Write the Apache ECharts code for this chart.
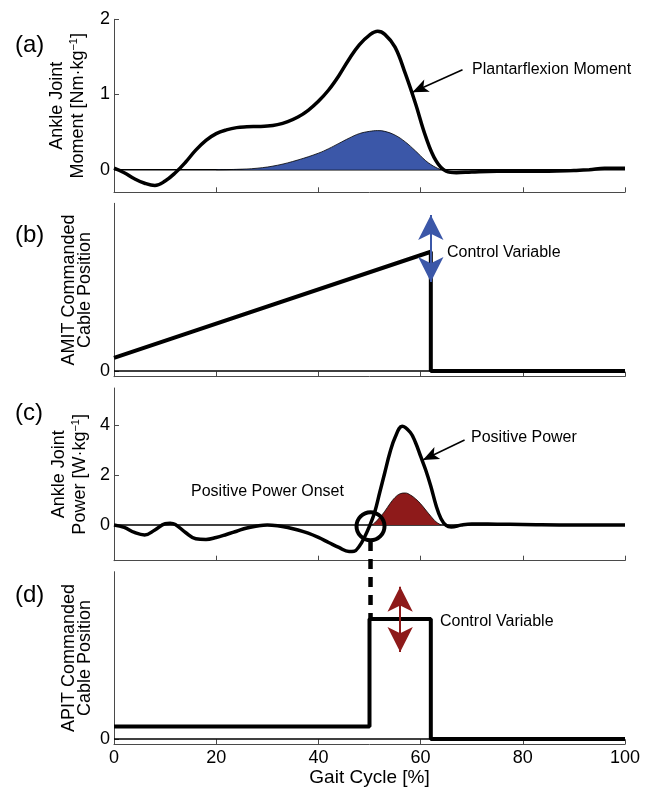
<!DOCTYPE html>
<html>
<head>
<meta charset="utf-8">
<script src="https://cdn.jsdelivr.net/npm/echarts@6/dist/echarts.min.js"></script>
<style>
  html, body { margin: 0; padding: 0; background: #fff; }
  #chart { width: 654px; height: 791px; }
</style>
</head>
<body>
<div id="chart"></div>
<script>
// Gait cycle axis ticks [%]
const gaitTicks = [0, 20, 40, 60, 80, 100];

// (a) Ankle joint moment [Nm/kg] over the gait cycle
const momentX = [0, 2, 4, 6, 8, 10, 12, 14, 16, 18, 20, 22, 24, 26, 28, 30, 32, 34, 36, 38, 40, 42, 44, 46, 48, 50, 51.6, 53, 55, 57, 59, 61, 63, 65, 67, 70, 75, 80, 85, 90, 93, 96, 100];
const momentY = [0.02, -0.04, -0.12, -0.18, -0.21, -0.15, -0.04, 0.10, 0.26, 0.39, 0.48, 0.53, 0.56, 0.57, 0.575, 0.58, 0.60, 0.64, 0.70, 0.79, 0.91, 1.06, 1.25, 1.47, 1.66, 1.79, 1.84, 1.80, 1.63, 1.28, 0.88, 0.44, 0.12, -0.02, -0.04, -0.03, -0.02, -0.02, -0.02, -0.01, 0.00, 0.02, 0.02];
// Shaded AMIT assistance profile under the moment curve
const momentFillX = [20, 24, 28, 32, 36, 40, 42, 44, 46, 48, 50, 51.6, 53, 55, 57, 59, 61, 62, 63, 64];
const momentFillY = [0, 0.005, 0.02, 0.06, 0.13, 0.22, 0.28, 0.35, 0.42, 0.48, 0.51, 0.52, 0.51, 0.46, 0.37, 0.25, 0.12, 0.07, 0.03, 0];

// (b) AMIT commanded cable position (normalised)
const amitX = [0, 62, 62, 100];
const amitY = [0.078, 0.711, 0, 0];
const amitArrowX = 62;
const amitArrowRange = [0.53, 0.93];

// (c) Ankle joint power [W/kg]
const powerX = [0, 2, 4, 6, 8, 10, 11, 12, 14, 16, 18, 20, 22, 24, 26, 28, 30, 32, 34, 36, 38, 40, 42, 44, 46, 47, 48, 49, 50, 51, 52, 53, 54, 55, 56.4, 58, 59, 60, 61, 62, 63, 64, 65, 66, 68, 70, 75, 80, 90, 100];
const powerY = [0, -0.10, -0.30, -0.40, -0.20, 0.05, 0.07, 0.02, -0.30, -0.55, -0.58, -0.50, -0.38, -0.25, -0.12, -0.04, 0.00, -0.03, -0.10, -0.20, -0.33, -0.50, -0.70, -0.90, -1.06, -1.05, -0.85, -0.50, -0.05, 0.50, 1.30, 2.10, 2.90, 3.50, 3.95, 3.70, 3.30, 2.75, 2.20, 1.55, 0.80, 0.25, -0.02, -0.08, 0.00, 0.04, 0.03, 0.02, 0.00, 0.00];
// Shaded APIT assistance profile under the power curve
const powerFillX = [50.5, 51, 52, 53, 54, 55, 56, 57, 58, 59, 60, 61, 62, 63, 64];
const powerFillY = [0, 0.08, 0.30, 0.55, 0.85, 1.10, 1.25, 1.28, 1.20, 1.05, 0.85, 0.60, 0.35, 0.13, 0];
const onsetPoint = [50.2, -0.05];

// (d) APIT commanded cable position (normalised)
const apitX = [0, 50, 50, 62, 62, 100];
const apitY = [0.074, 0.074, 0.717, 0.717, 0, 0];
const apitArrowX = 56;
const apitArrowRange = [0.52, 0.91];

const zip = (xs, ys) => xs.map((x, i) => [x, ys[i]]);

const FONT = "'Liberation Sans', Arial, Helvetica, sans-serif";
const AXIS_COLOR = '#4a4a4a';
const BLUE = '#3b57a8';
const RED = '#8e1a1a';

const grids = [
  { left: 114, width: 511, top: 19.3, height: 173 },
  { left: 114, width: 511, top: 203.3, height: 173.4 },
  { left: 114, width: 511, top: 388, height: 172.7 },
  { left: 114, width: 511, top: 571.7, height: 172.6 }
].map(g => Object.assign({ outerBoundsMode: 'none', containLabel: false }, g));

const xAxes = grids.map((g, i) => ({
  type: 'value', gridIndex: i, min: 0, max: 100, interval: 20,
  axisLine: { onZero: false, lineStyle: { color: AXIS_COLOR, width: 1 } },
  axisTick: { inside: true, length: 5, lineStyle: { color: AXIS_COLOR, width: 1 } },
  axisLabel: { show: i === 3, color: '#000', fontSize: 18, fontFamily: FONT, margin: 5 },
  splitLine: { show: false },
  name: i === 3 ? 'Gait Cycle [%]' : '',
  nameLocation: 'middle', nameGap: 24, nameMoveOverlap: false,
  nameTextStyle: { color: '#000', fontSize: 19, fontFamily: FONT }
}));

function yAxis(i, min, max, ticks, name, lineHeight, gap) {
  return {
    type: 'value', gridIndex: i, min: min, max: max,
    axisLine: { show: true, onZero: false, lineStyle: { color: AXIS_COLOR, width: 1 } },
    axisTick: { show: true, inside: true, length: 5, customValues: ticks, lineStyle: { color: AXIS_COLOR, width: 1 } },
    axisLabel: { customValues: ticks, color: '#000', fontSize: 18, fontFamily: FONT, margin: 4 },
    splitLine: { show: false },
    name: name, nameLocation: 'middle', nameRotate: 90, nameGap: gap, nameMoveOverlap: false,
    nameTextStyle: {
      color: '#000', fontSize: 18, fontFamily: FONT, lineHeight: lineHeight,
      rich: { sup: { fontSize: 11, fontFamily: FONT, verticalAlign: 'top', lineHeight: 11 } }
    }
  };
}

const yAxes = [
  yAxis(0, -0.3, 2, [0, 1, 2], 'Ankle Joint\nMoment [Nm·kg{sup|−1}]', 21, 25),
  yAxis(1, -0.034, 1, [0], 'AMIT Commanded\nCable Position', 16, 21),
  yAxis(2, -1.43, 5.48, [0, 2, 4], 'Ankle Joint\nPower [W·kg{sup|−1}]', 21, 23),
  yAxis(3, -0.032, 1, [0], 'APIT Commanded\nCable Position', 16, 21)
];

function zeroLine(i) {
  return {
    type: 'line', xAxisIndex: i, yAxisIndex: i, silent: true, symbol: 'none', z: 1,
    data: zip([0, 100], [0, 0]),
    lineStyle: { color: '#000', width: 1.4 }
  };
}

function arrowMark(from, to, color, width, size, both) {
  return {
    silent: true, animation: false,
    symbol: both ? ['arrow', 'arrow'] : ['none', 'arrow'],
    symbolSize: size,
    label: { show: false },
    lineStyle: { color: color, width: width, type: 'solid' },
    emphasis: { disabled: true },
    data: [[{ coord: from }, { coord: to }]]
  };
}

const series = [
  zeroLine(0), zeroLine(1), zeroLine(2), zeroLine(3),
  {
    type: 'line', xAxisIndex: 0, yAxisIndex: 0, silent: true, symbol: 'none', z: 2,
    smooth: 0.4, data: zip(momentFillX, momentFillY),
    lineStyle: { color: '#000', width: 0.8 },
    areaStyle: { color: BLUE, opacity: 1 }
  },
  {
    type: 'line', xAxisIndex: 0, yAxisIndex: 0, silent: true, symbol: 'none', z: 3,
    smooth: 0.4, data: zip(momentX, momentY),
    lineStyle: { color: '#000', width: 3.5 },
    markLine: arrowMark([68.2, 1.33], [58.4, 1.03], '#000', 1.5, [10, 16], false)
  },
  {
    type: 'line', xAxisIndex: 1, yAxisIndex: 1, silent: true, symbol: 'none', z: 3,
    data: zip(amitX, amitY),
    lineStyle: { color: '#000', width: 4 },
    markLine: arrowMark([amitArrowX, amitArrowRange[0]], [amitArrowX, amitArrowRange[1]], BLUE, 2, [19, 25], true)
  },
  {
    type: 'line', xAxisIndex: 2, yAxisIndex: 2, silent: true, symbol: 'none', z: 2,
    smooth: 0.4, data: zip(powerFillX, powerFillY),
    lineStyle: { color: '#000', width: 0.8 },
    areaStyle: { color: RED, opacity: 1 }
  },
  {
    type: 'line', xAxisIndex: 2, yAxisIndex: 2, silent: true, symbol: 'none', z: 3,
    smooth: 0.4, data: zip(powerX, powerY),
    lineStyle: { color: '#000', width: 3.5 },
    markLine: arrowMark([68.6, 3.4], [60.45, 2.6], '#000', 1.5, [10, 16], false),
    markPoint: {
      silent: true, symbol: 'circle', symbolSize: 28,
      label: { show: false },
      itemStyle: { color: 'rgba(0,0,0,0)', borderColor: '#000', borderWidth: 4 },
      data: [{ coord: onsetPoint }]
    }
  },
  {
    type: 'line', xAxisIndex: 3, yAxisIndex: 3, silent: true, symbol: 'none', z: 3,
    data: zip(apitX, apitY),
    lineStyle: { color: '#000', width: 4 },
    markLine: arrowMark([apitArrowX, apitArrowRange[0]], [apitArrowX, apitArrowRange[1]], RED, 2, [19, 25], true)
  }
];

function label(text, x, y, size) {
  return {
    type: 'text', x: x, y: y, silent: true, z: 10,
    style: { text: text, fontSize: size, fontFamily: FONT, fill: '#000', verticalAlign: 'middle', align: 'left' }
  };
}

const chart = echarts.init(document.getElementById('chart'), null, { renderer: 'canvas' });
chart.setOption({
  animation: false,
  backgroundColor: '#fff',
  grid: grids,
  xAxis: xAxes,
  yAxis: yAxes,
  series: series
});

// Dashed link from the power onset circle down to the APIT step
const dashTop = chart.convertToPixel({ xAxisIndex: 2, yAxisIndex: 2 }, [onsetPoint[0], -0.64]);
const dashBottom = chart.convertToPixel({ xAxisIndex: 3, yAxisIndex: 3 }, [apitX[1], apitY[2]]);

chart.setOption({
  graphic: [
    label('(a)', 15, 45, 24),
    label('(b)', 15, 235, 24),
    label('(c)', 15, 413, 24),
    label('(d)', 15, 595, 24),
    label('Plantarflexion Moment', 472, 70, 16),
    label('Control Variable', 447, 253, 16),
    label('Positive Power Onset', 191, 492, 16),
    label('Positive Power', 471, 438, 16),
    label('Control Variable', 440, 622, 16),
    {
      type: 'line', silent: true, z: 10,
      shape: { x1: dashTop[0], y1: dashTop[1], x2: dashTop[0], y2: dashBottom[1] },
      style: { stroke: '#000', lineWidth: 4.5, lineDash: [10, 8] }
    }
  ]
});
</script>
</body>
</html>
